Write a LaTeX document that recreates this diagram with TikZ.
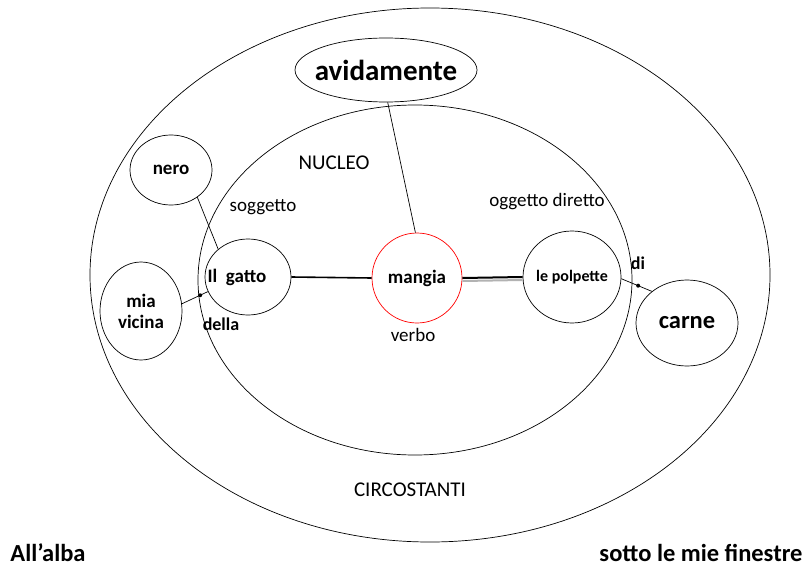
\documentclass[tikz,border=0pt]{standalone}
\usepackage{fontspec}
\setmainfont{Carlito}
\usetikzlibrary{shapes.geometric}
\tikzset{
  word/.style={ellipse, draw, inner sep=0pt},
  wtext/.style={inner sep=0pt, align=center, font=\bfseries\fontsize{19}{21}\selectfont},
  tag/.style={inner sep=0pt, font=\fontsize{19}{21}\selectfont},
  dot/.style={circle, fill, inner sep=0pt, minimum size=4pt},
  link/.style={line width=1.6pt}
}
\begin{document}
\begin{tikzpicture}[x=1pt, y=-1pt, line width=0.7pt]
  \useasboundingbox (0,0) rectangle (805,567);
  \node[word, minimum width=680pt, minimum height=534pt] (circostanti) at (430,275) {};
  \node[word, minimum width=434pt, minimum height=350pt] (nucleo) at (415,280) {};
  \node[word, minimum width=182pt, minimum height=64pt,
    label={[wtext, font=\bfseries\fontsize{29}{31}\selectfont]center:avidamente}] (avidamente) at (386,70) {};
  \node[word, minimum width=82pt, minimum height=70pt, label={[wtext]center:nero}] (nero) at (171,170) {};
  \node[word, minimum width=82pt, minimum height=98pt, label={[wtext]center:mia\\vicina}] (vicina) at (141,311) {};
  \node[word, minimum width=86pt, minimum height=76pt] (gatto) at (248,277) {};
  \node[wtext] (tgatto) at (237,277) {Il~~gatto};
  \node[word, draw=red, minimum width=90pt, minimum height=90pt, label={[wtext]center:mangia}] (mangia) at (417,278) {};
  \node[word, minimum width=98pt, minimum height=92pt,
    label={[wtext, font=\bfseries\fontsize{16}{18}\selectfont]center:le polpette}] (polpette) at (572,277) {};
  \node[word, minimum width=102pt, minimum height=86pt,
    label={[wtext, font=\bfseries\fontsize{24.5}{27}\selectfont]center:carne}] (carne) at (687,323) {};
  % etichette
  \node[tag, font=\fontsize{21}{23}\selectfont] (lnucleo) at (334,163) {NUCLEO};
  \node[tag] (lsoggetto) at (263,207) {soggetto};
  \node[tag] (loggetto) at (547,202) {oggetto diretto};
  \node[tag] (lverbo) at (413,335) {verbo};
  \node[tag, font=\fontsize{21}{23}\selectfont] (lcircostanti) at (410,490) {CIRCOSTANTI};
  \node[tag, font=\bfseries\fontsize{24.5}{27}\selectfont] (alba) at (48,553) {All’alba};
  \node[tag, font=\bfseries\fontsize{24.5}{27}\selectfont] (finestre) at (701,553) {sotto le mie finestre};
  \node[tag, font=\bfseries\fontsize{18}{20}\selectfont] (della) at (221,324) {della};
  \node[tag, font=\bfseries\fontsize{18}{20}\selectfont] (di) at (638,263) {di};
  % legami
  \draw (avidamente.-87) -- (mangia.92);
  \draw (nero.-46) -- (gatto.137);
  \draw (vicina.10) -- node[dot, pos=0.7] {} (gatto.200);
  \draw (polpette.-2) -- node[dot, pos=0.55] {} (carne.138);
  \draw[link] (gatto.east) -- (mangia.west);
  \draw[line width=2pt, gray!60] ([yshift=-3pt]mangia.east) -- ([yshift=-3pt]polpette.west);
  \draw[line width=2pt] (mangia.east) -- (polpette.west);
\end{tikzpicture}
\end{document}
